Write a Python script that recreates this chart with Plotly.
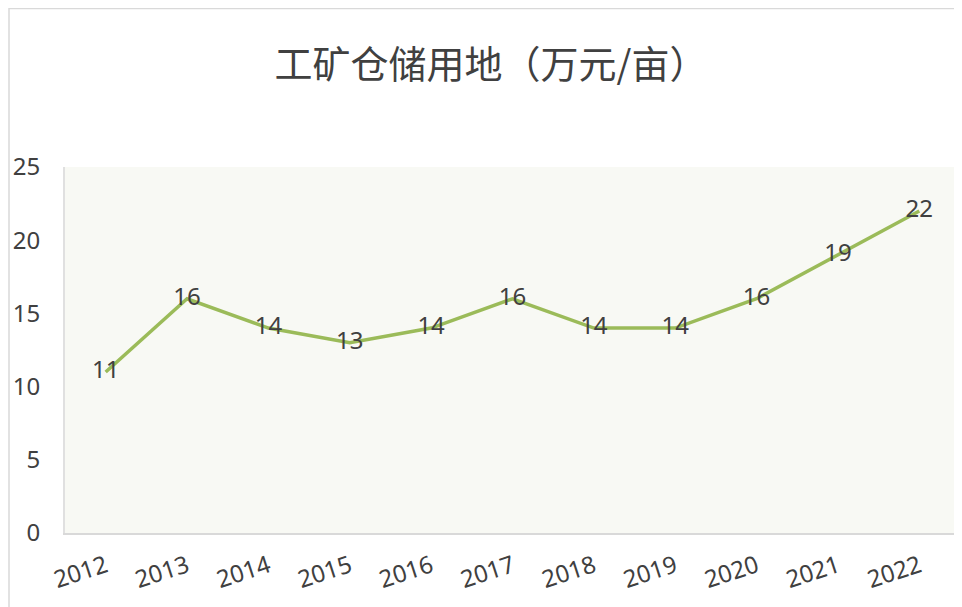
import plotly.graph_objects as go

years = ["2012", "2013", "2014", "2015", "2016", "2017", "2018", "2019", "2020", "2021", "2022"]
values = [11, 16, 14, 13, 14, 16, 14, 14, 16, 19, 22]
title_text = "工矿仓储用地（万元/亩）"

# page has an 8px body margin; compensate
W, H = 954, 599
L, R, T, B = 57, 2, 159, 74
pw = W - L - R
ph = H - T - B

fig = go.Figure()
fig.add_trace(go.Scatter(
    x=years, y=values, mode="lines+text",
    line=dict(color="#9BBB59", width=3.5),
    text=[str(v) for v in values], textposition="middle center",
    textfont=dict(family="Noto Sans, Open Sans, sans-serif", size=24, color="#404040"),
    cliponaxis=False, hoverinfo="skip", showlegend=False,
))

def px_x(x):
    return (x - L) / pw

def px_y(y):
    return (H - B - y) / ph

fig.add_shape(type="rect", xref="paper", yref="paper",
              x0=px_x(1), x1=px_x(W + 20), y0=px_y(H + 20), y1=px_y(0.5),
              line=dict(color="#D9D9D9", width=1.5), fillcolor="rgba(0,0,0,0)", layer="below")

fig.update_layout(
    width=W, height=H,
    margin=dict(l=L, r=R, t=T, b=B),
    paper_bgcolor="white", plot_bgcolor="#F8F9F4",
    title=dict(text=title_text, x=(491 - 8) / W, xanchor="center", y=1 - (65 - 8) / H, yanchor="middle",
               font=dict(family="Noto Sans CJK SC, sans-serif", size=38, color="#404040")),
    xaxis=dict(type="category", range=[-0.5, 10.5], showgrid=False, zeroline=False,
               showline=True, linecolor="#D9D9D9", linewidth=2, ticks="",
               tickangle=-18, tickfont=dict(family="Noto Sans, sans-serif", size=24, color="#404040"),
               ticklabelstandoff=8),
    yaxis=dict(range=[0, 25], dtick=5, showgrid=False, zeroline=False,
               showline=True, linecolor="#E0E0E0", linewidth=2, ticks="",
               tickfont=dict(family="Noto Sans, sans-serif", size=24, color="#404040"),
               ticklabelstandoff=18),
)

fig.write_html("out.html")
